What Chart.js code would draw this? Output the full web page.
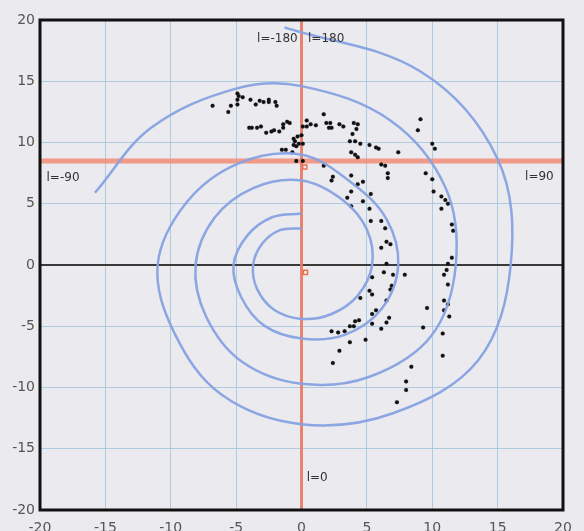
<!DOCTYPE html>
<html>
<head>
<meta charset="utf-8">
<script src="https://cdn.jsdelivr.net/npm/chart.js@4.4.1/dist/chart.umd.min.js"></script>
<style>
  html, body { margin: 0; padding: 0; background: #ebebef; }
  #wrap { width: 584px; height: 531px; }
</style>
</head>
<body>
<div id="wrap"><canvas id="galaxy"></canvas></div>
<script>
// axis ticks
var tickValues = [-20, -15, -10, -5, 0, 5, 10, 15, 20];

// observed points (x, y in kpc)
var dotX = [-6.8, -5.6, -5.4, -4.9, -4.8, -4.9, -4.9, -4.5, -3.9, -3.5, -3.2, -2.9, -2.5, -2.5, -2.0, -1.9,
    -4.0, -3.8, -3.4, -3.1, -2.7, -2.3, -2.1, -1.7, -1.4, -1.4, -1.1, -0.9,
    0.4, 0.1, 0.4, 0.7, 1.1, 0.0, -0.3, -0.6, -0.5, -0.2, 0.1, -0.6, -0.4, -0.7, -1.5, -1.2, -0.4, 0.1,
    1.7, 1.9, 2.2, 2.1, 2.3, 2.9, 3.2, 4.0, 4.3, 4.2, 3.9, 3.7, 4.1, 4.5, 5.2, 5.7, 5.9, 7.4, 3.8, 4.1, 4.3,
    6.1, 6.4, 6.6, 6.6, 1.7, 2.4, 2.3, 3.8, 4.3, 4.7, 3.8, 3.5, 5.3, 4.7, 3.8, 5.2, 5.3, 6.1, 6.4, 6.5, 6.8, 6.1, 6.5,
    9.1, 8.9, 10.0, 10.2, 9.5, 10.0, 10.1, 10.7, 11.0, 11.2, 10.7, 11.5, 11.6, 11.5, 11.2,
    6.3, 7.0, 7.9, 5.4, 6.9, 6.8, 5.2, 5.4, 4.5, 6.5, 5.7, 5.4, 5.4, 6.7, 6.5, 6.1, 4.9, 4.4, 4.1, 4.0, 3.7, 3.3, 2.8, 2.3,
    3.7, 2.9, 2.4, 8.4, 8.0, 8.0, 7.3, 9.6, 9.3,
    11.1, 10.9, 11.2, 10.9, 11.2, 10.9, 11.3, 10.8, 10.8];
var dotY = [13.0, 12.5, 13.0, 14.0, 13.8, 13.5, 13.1, 13.7, 13.5, 13.1, 13.4, 13.3, 13.5, 13.3, 13.3, 13.0,
    11.2, 11.2, 11.2, 11.3, 10.8, 10.9, 11.0, 10.9, 11.2, 11.5, 11.7, 11.6,
    11.8, 11.3, 11.3, 11.5, 11.4, 10.6, 10.5, 10.3, 10.1, 9.9, 9.9, 9.8, 9.7, 9.2, 9.4, 9.4, 8.5, 8.5,
    12.3, 11.6, 11.6, 11.2, 11.2, 11.5, 11.3, 11.6, 11.5, 11.1, 10.7, 10.1, 10.1, 9.9, 9.8, 9.6, 9.5, 9.2, 9.2, 9.0, 8.8,
    8.2, 8.1, 7.5, 7.1, 8.1, 7.2, 6.9, 7.3, 6.6, 6.8, 6.0, 5.5, 5.8, 5.2, 4.8, 4.6, 3.6, 3.6, 3.0, 1.9, 1.7, 1.4, 0.1,
    11.9, 11.0, 9.9, 9.5, 7.5, 7.0, 6.0, 5.6, 5.3, 5.0, 4.6, 3.3, 2.8, 0.6, 0.1,
    -0.6, -0.8, -0.8, -1.0, -1.7, -2.0, -2.1, -2.4, -2.7, -2.9, -3.7, -4.0, -4.8, -4.3, -4.7, -5.2, -6.1, -4.5, -4.6, -5.0, -5.0, -5.4, -5.5, -5.4,
    -6.3, -7.0, -8.0, -8.3, -9.5, -10.2, -11.2, -3.5, -5.1,
    -0.4, -0.8, -1.6, -2.9, -3.2, -3.7, -4.2, -5.6, -7.4];

// spiral arm A (starts near l=180, winds inward clockwise), read every ~30 deg
var armAX = [-1.3, 9.1, 15.0, 16.0, 13.5, 7.0, 0, -6.1, -9.7, -11.0, -8.8, -4.8, 0,
    3.85, 6.5, 7.4, 6.15, 3.3, 0, -2.85, -4.6, -5.2, -4.15, -2.25, 0];
var armAY = [19.4, 15.8, 8.65, 0, -7.8, -12.1, -13.0, -10.6, -5.6, 0, 5.1, 8.3, 9.0,
    6.7, 3.75, 0, -3.55, -5.7, -6.0, -4.95, -2.65, 0, 2.4, 3.9, 4.2];

// spiral arm B (starts near l=-90)
var armBX = [-15.8, -11.5, -5.0, 0, 6.8, 11.0, 11.8, 9.95, 5.25, 0, -4.55, -7.3, -8.1,
    -6.65, -3.65, 0, 3.1, 5.0, 5.4, 4.3, 2.3, 0, -2.1, -3.4, -3.7, -3.0, -1.65, 0];
var armBY = [5.9, 11.2, 14.4, 14.6, 11.8, 6.35, 0, -5.75, -9.1, -9.7, -7.9, -4.2, 0,
    3.85, 6.3, 6.9, 5.35, 2.9, 0, -2.5, -4.0, -4.4, -3.65, -1.95, 0, 1.75, 2.85, 3.0];

// sun and centre markers
var markX = [0.25, 0.3];
var markY = [8.0, -0.6];

// reference lines
var sunY = 8.5;
var lonLabels = ['l=-180', 'l=180', 'l=-90', 'l=90', 'l=0'];
var lonX = [-3.4, 0.5, -19.5, 17.1, 0.4];
var lonY = [18.5, 18.5, 7.1, 7.2, -17.4];

function pairs(xs, ys) {
    var out = [];
    for (var i = 0; i < xs.length; i++) out.push({ x: xs[i], y: ys[i] });
    return out;
}

var refLines = {
    id: 'refLines',
    beforeDraw: function (chart) {
        var c = chart.ctx;
        c.save();
        c.fillStyle = '#ebebef';
        c.fillRect(0, 0, chart.width, chart.height);
        c.restore();
    },
    beforeDatasetsDraw: function (chart) {
        var c = chart.ctx, a = chart.chartArea;
        var xs = chart.scales.x, ys = chart.scales.y;
        c.save();
        // y = 0 line
        var y0 = ys.getPixelForValue(0);
        c.strokeStyle = '#3a3a3a';
        c.lineWidth = 2;
        c.beginPath(); c.moveTo(a.left, y0); c.lineTo(a.right, y0); c.stroke();
        // sun line
        var yS = ys.getPixelForValue(sunY);
        c.strokeStyle = 'rgba(242, 140, 118, 0.85)';
        c.lineWidth = 5;
        c.beginPath(); c.moveTo(a.left, yS); c.lineTo(a.right, yS); c.stroke();
        // l = 0 / 180 line
        var x0 = xs.getPixelForValue(0);
        c.strokeStyle = 'rgba(236, 120, 96, 0.9)';
        c.lineWidth = 3;
        c.beginPath(); c.moveTo(x0, a.top); c.lineTo(x0, a.bottom); c.stroke();
        c.restore();
    },
    afterDraw: function (chart) {
        var c = chart.ctx, a = chart.chartArea;
        var xs = chart.scales.x, ys = chart.scales.y;
        c.save();
        c.strokeStyle = '#111';
        c.lineWidth = 3;
        c.strokeRect(a.left, a.top, a.right - a.left, a.bottom - a.top);
        c.fillStyle = '#333';
        c.font = '12px "DejaVu Sans"';
        c.textAlign = 'left';
        c.textBaseline = 'middle';
        for (var i = 0; i < lonLabels.length; i++) {
            c.fillText(lonLabels[i], xs.getPixelForValue(lonX[i]), ys.getPixelForValue(lonY[i]));
        }
        c.restore();
    }
};

var gridOpts = { color: 'rgba(150, 190, 220, 0.7)', lineWidth: 1, drawTicks: false };
var tickOpts = {
    stepSize: 5,
    color: '#555',
    font: { family: 'DejaVu Sans', size: 14 },
    callback: function (v) { return tickValues.indexOf(v) >= 0 ? String(v) : ''; }
};

var armStyle = {
    showLine: true, tension: 0.36, borderColor: 'rgba(134, 162, 224, 0.95)',
    borderWidth: 2.5, pointRadius: 0, fill: false
};

new Chart(document.getElementById('galaxy'), {
    type: 'scatter',
    data: {
        datasets: [
            Object.assign({ label: 'arm A', data: pairs(armAX, armAY) }, armStyle),
            Object.assign({ label: 'arm B', data: pairs(armBX, armBY) }, armStyle),
            {
                label: 'markers', data: pairs(markX, markY), pointStyle: 'rect', pointRadius: 3,
                borderColor: '#ee7050', borderWidth: 1.5, backgroundColor: 'rgba(0,0,0,0)'
            },
            {
                label: 'sources', data: pairs(dotX, dotY), pointRadius: 2, pointBorderWidth: 0.5,
                backgroundColor: '#111', borderColor: 'rgba(60,60,60,0.4)'
            }
        ]
    },
    options: {
        responsive: true,
        maintainAspectRatio: false,
        animation: false,
        events: [],
        layout: { padding: { top: 20, right: 21, left: 0, bottom: 0 } },
        plugins: { legend: { display: false }, tooltip: { enabled: false } },
        scales: {
            x: {
                type: 'linear', min: -20, max: 20,
                grid: gridOpts, border: { display: false },
                ticks: Object.assign({ padding: 10 }, tickOpts),
                afterFit: function (s) { s.height = 21; }
            },
            y: {
                type: 'linear', min: -20, max: 20,
                grid: gridOpts, border: { display: false },
                ticks: Object.assign({ padding: 5 }, tickOpts),
                afterFit: function (s) { s.width = 40; }
            }
        }
    },
    plugins: [refLines]
});
</script>
</body>
</html>
